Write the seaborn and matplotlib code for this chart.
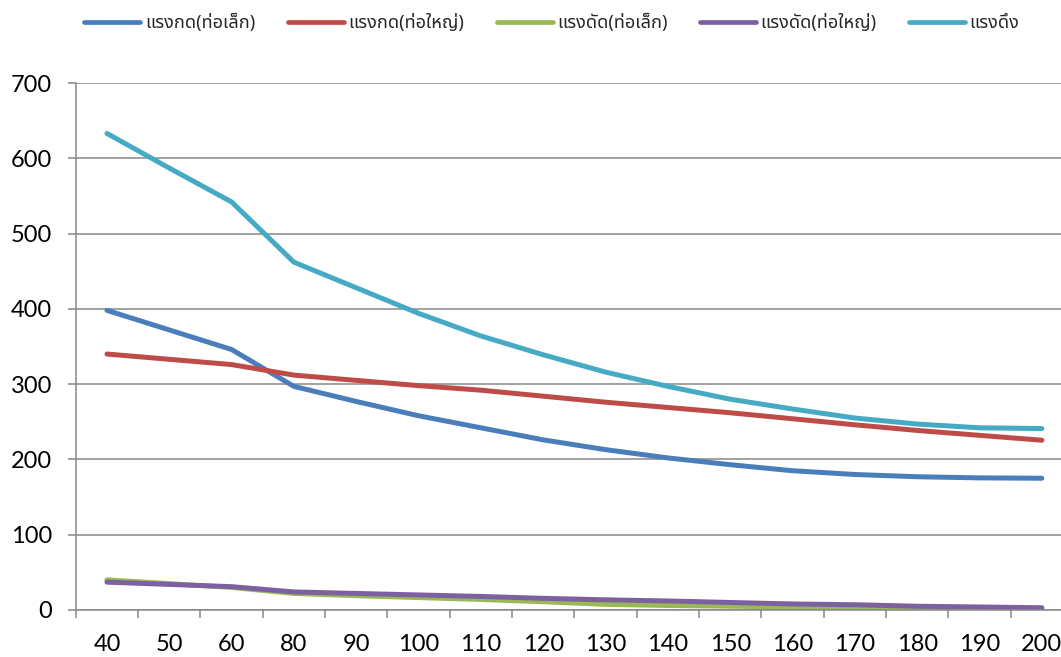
import numpy as np
import pandas as pd
import matplotlib
matplotlib.use("Agg")
import matplotlib.pyplot as plt
import seaborn as sns
from matplotlib import font_manager
from matplotlib.ft2font import FT2Font
from matplotlib.ticker import FixedLocator

# ---------------- data ----------------
categories = ["40", "50", "60", "80", "90", "100", "110", "120", "130", "140",
              "150", "160", "170", "180", "190", "200"]
series_names = ["แรงกด(ท่อเล็ก)", "แรงกด(ท่อใหญ่)", "แรงดัด(ท่อเล็ก)",
                "แรงดัด(ท่อใหญ่)", "แรงดึง"]
press_small = [398, 372, 346, 297, 277, 258, 242, 226, 213, 202, 193, 185, 180, 177, 175.5, 175]
press_large = [340, 333, 326, 312, 305, 298, 292, 284, 276, 269, 262, 254, 246, 238.5, 232, 225.5]
bend_small = [40, 35, 30, 22, 19, 16.5, 14, 11, 7.5, 6, 5, 4, 3, 2, 2, 1.5]
bend_large = [37, 34, 31, 24, 22, 20, 18, 15.5, 13.5, 12, 10, 8, 7, 5, 4, 3]
pull = [633, 587, 542, 462, 428, 394, 364, 339, 316, 297, 280, 267, 255, 247, 242, 241]
y_ticks = [0, 100, 200, 300, 400, 500, 600, 700]

colors = ["#4A7EBB", "#BE4B48", "#98B954", "#7D60A0", "#46AAC5"]

# ---------------- fonts ----------------
def find_thai_font():
    found = []
    seen = set()
    for fe in font_manager.fontManager.ttflist:
        if fe.fname in seen:
            continue
        seen.add(fe.fname)
        try:
            cm = FT2Font(fe.fname).get_charmap()
        except Exception:
            continue
        if 0x0E41 in cm and 0x0E14 in cm and 0x0E07 in cm:
            found.append(fe.name)
    prefs = ["Noto Sans Thai", "Noto Sans Thai UI", "Tahoma", "Leelawadee UI",
             "Leelawadee", "Loma", "Garuda", "Sarabun", "Waree", "Umpush",
             "Kinnari", "Norasi"]
    for p in prefs:
        if p in found:
            return p
    return found[0] if found else None

thai = find_thai_font()
legend_family = [thai, "DejaVu Sans"] if thai else ["DejaVu Sans"]

sns.set_theme(style="white")
plt.rcParams["font.family"] = ["Lato", "DejaVu Sans"]

# ---------------- frame ----------------
all_vals = [press_small, press_large, bend_small, bend_large, pull]
rows = []
for name, vals in zip(series_names, all_vals):
    for c, v in zip(categories, vals):
        rows.append({"x": c, "value": v, "series": name})
df = pd.DataFrame(rows)

W, H = 1061, 657
fig = plt.figure(figsize=(W / 100, H / 100), dpi=100)
left_px, right_px, top_px, bottom_px = 75.8, 1073.0, 83.0, 610.0
ax = fig.add_axes([left_px / W, 1 - bottom_px / H,
                   (right_px - left_px) / W, (bottom_px - top_px) / H])

sns.lineplot(data=df, x="x", y="value", hue="series", hue_order=series_names,
             palette=dict(zip(series_names, colors)), sort=False,
             linewidth=3.6, ax=ax, legend=False)
for ln in ax.get_lines():
    ln.set_solid_capstyle("round")
    ln.set_solid_joinstyle("round")

ax.set_xlim(-0.5, len(categories) - 0.5)
ax.set_ylim(0, 700)
ax.set_yticks(y_ticks)
ax.set_xticks(range(len(categories)))
ax.set_xticklabels(categories)
ax.xaxis.set_minor_locator(FixedLocator(np.arange(-0.5, len(categories), 1.0)))
ax.set_xlabel("")
ax.set_ylabel("")

grid_c = "#878787"
ax.yaxis.grid(True, color=grid_c, linewidth=1.1)
ax.xaxis.grid(False)
ax.set_axisbelow(True)
for s in ["top", "right"]:
    ax.spines[s].set_visible(False)
for s in ["left", "bottom"]:
    ax.spines[s].set_color(grid_c)
    ax.spines[s].set_linewidth(1.1)

ax.tick_params(axis="y", which="major", direction="out", length=6, width=1.1,
               color=grid_c, pad=11, labelsize=17, labelcolor="#000000", left=True)
ax.tick_params(axis="x", which="major", length=0, pad=17, labelsize=17,
               labelcolor="#000000", bottom=True)
ax.tick_params(axis="x", which="minor", direction="out", length=5.5, width=1.1,
               color=grid_c, bottom=True)

handles = [matplotlib.lines.Line2D([], [], color=c, linewidth=3.4,
                                   solid_capstyle="round") for c in colors]
fig.legend(handles, series_names, loc="center", ncol=5,
           bbox_to_anchor=(552 / W, 1 - 23 / H), frameon=False,
           handlelength=3.1, handletextpad=0.25, columnspacing=1.8,
           prop={"family": legend_family, "size": 13})

fig.savefig("out.png", dpi=100)
